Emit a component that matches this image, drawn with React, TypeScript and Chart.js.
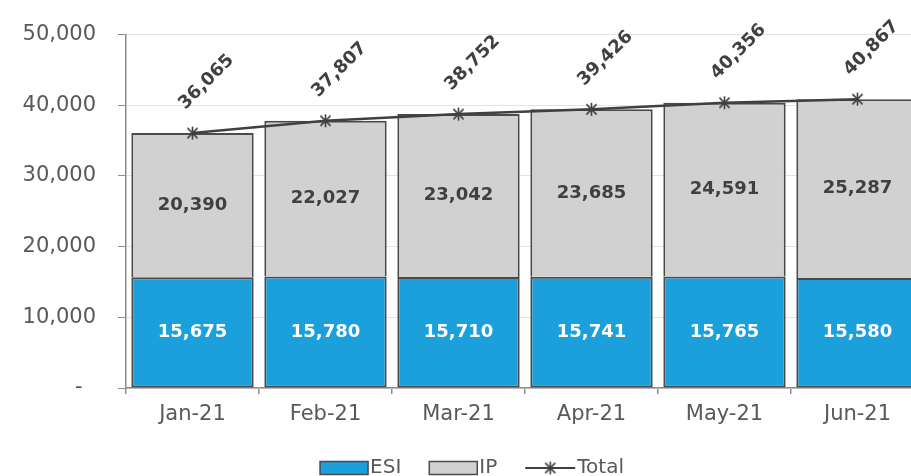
import React, { useEffect, useRef } from 'react';
import { Chart, registerables } from 'chart.js';

Chart.register(...registerables);

const categories = ['Jan-21', 'Feb-21', 'Mar-21', 'Apr-21', 'May-21', 'Jun-21'];
const esiValues = [15675, 15780, 15710, 15741, 15765, 15580];
const ipValues = [20390, 22027, 23042, 23685, 24591, 25287];
const totalValues = [36065, 37807, 38752, 39426, 40356, 40867];
const yMin = 0;
const yMax = 50000;
const yStep = 10000;
const seriesNames = ['ESI', 'IP', 'Total'];

const BLUE = '#1CA0DC';
const GRAY = '#D1D1D1';
const BORDER = '#4A4A4A';
const DARK = '#404040';
const TEXT = '#595959';
const AXIS = '#8C8C8C';
const FONT = '"DejaVu Sans", sans-serif';

const fmt = (v: number) => v.toLocaleString('en-US');

function makeStar(size: number, color: string, lw: number): HTMLCanvasElement {
  const c = document.createElement('canvas');
  c.width = size;
  c.height = size;
  const g = c.getContext('2d')!;
  g.strokeStyle = color;
  g.lineWidth = lw;
  const m = size / 2;
  const r = size / 2 - 1;
  const d = r * 0.78;
  g.beginPath();
  g.moveTo(m, m - r);
  g.lineTo(m, m + r);
  g.moveTo(m - d, m - d);
  g.lineTo(m + d, m + d);
  g.moveTo(m + d, m - d);
  g.lineTo(m - d, m + d);
  g.stroke();
  return c;
}

export default function App() {
  const ref = useRef<HTMLCanvasElement>(null);

  useEffect(() => {
    const star = makeStar(15, DARK, 1.6);

    const labelsPlugin = {
      id: 'valueLabels',
      afterDatasetsDraw(chart: any) {
        const ctx = chart.ctx;
        ctx.save();
        ctx.font = `bold 18px ${FONT}`;
        ctx.textAlign = 'center';
        ctx.textBaseline = 'middle';
        [0, 1].forEach((di) => {
          const meta = chart.getDatasetMeta(di);
          const vals = di === 0 ? esiValues : ipValues;
          ctx.fillStyle = di === 0 ? '#FFFFFF' : DARK;
          meta.data.forEach((el: any, i: number) => {
            ctx.fillText(fmt(vals[i]), el.x, (el.y + el.base) / 2);
          });
        });
        const lm = chart.getDatasetMeta(2);
        ctx.fillStyle = DARK;
        lm.data.forEach((el: any, i: number) => {
          ctx.save();
          ctx.translate(el.x + 14, el.y - 51);
          ctx.rotate(-Math.PI / 4);
          ctx.fillText(fmt(totalValues[i]), 0, 0);
          ctx.restore();
        });
        ctx.restore();
      },
    };

    const legendPlugin = {
      id: 'customLegend',
      afterDraw(chart: any) {
        const ctx = chart.ctx;
        ctx.save();
        ctx.font = `20px ${FONT}`;
        ctx.textBaseline = 'middle';
        ctx.textAlign = 'left';
        const boxW = 48;
        const boxH = 13;
        const lineW = 50;
        const gapText = 2;
        const gapItem = 28;
        const widths = [
          boxW + gapText + ctx.measureText(seriesNames[0]).width,
          boxW + gapText + ctx.measureText(seriesNames[1]).width,
          lineW + gapText + ctx.measureText(seriesNames[2]).width,
        ];
        const totalW = widths.reduce((a, b) => a + b, 0) + gapItem * 2;
        let x = 472 - totalW / 2;
        const cy = 468;
        const fills = [BLUE, GRAY];
        for (let k = 0; k < 2; k++) {
          ctx.fillStyle = fills[k];
          ctx.fillRect(x, cy - boxH / 2, boxW, boxH);
          ctx.strokeStyle = BORDER;
          ctx.lineWidth = 1.5;
          ctx.strokeRect(x, cy - boxH / 2, boxW, boxH);
          ctx.fillStyle = TEXT;
          ctx.fillText(seriesNames[k], x + boxW + gapText, cy);
          x += widths[k] + gapItem;
        }
        ctx.strokeStyle = DARK;
        ctx.lineWidth = 2;
        ctx.beginPath();
        ctx.moveTo(x, cy);
        ctx.lineTo(x + lineW, cy);
        ctx.stroke();
        ctx.drawImage(star, x + lineW / 2 - star.width / 2, cy - star.height / 2);
        ctx.fillStyle = TEXT;
        ctx.fillText(seriesNames[2], x + lineW + gapText, cy);
        ctx.restore();
      },
    };

    const chart = new Chart(ref.current as HTMLCanvasElement, {
      type: 'bar',
      data: {
        labels: categories,
        datasets: [
          {
            type: 'bar',
            label: seriesNames[0],
            data: esiValues,
            backgroundColor: BLUE,
            borderColor: BORDER,
            borderWidth: 2,
            borderSkipped: false,
            barPercentage: 0.92,
            categoryPercentage: 1,
            stack: 'bars',
            order: 1,
          },
          {
            type: 'bar',
            label: seriesNames[1],
            data: ipValues,
            backgroundColor: GRAY,
            borderColor: BORDER,
            borderWidth: 2,
            borderSkipped: 'start',
            barPercentage: 0.92,
            categoryPercentage: 1,
            stack: 'bars',
            order: 1,
          },
          {
            type: 'line',
            label: seriesNames[2],
            data: totalValues,
            borderColor: DARK,
            borderWidth: 2.5,
            pointStyle: star as any,
            pointRadius: 7,
            pointBorderColor: DARK,
            pointBackgroundColor: DARK,
            stack: 'total',
            order: 0,
            tension: 0,
          } as any,
        ],
      },
      options: {
        responsive: false,
        animation: false,
        devicePixelRatio: 1,
        layout: { padding: { left: 0, right: 16, top: 32, bottom: 38 } },
        plugins: {
          legend: { display: false },
          tooltip: { enabled: false },
        },
        scales: {
          x: {
            stacked: true,
            offset: true,
            grid: {
              offset: true,
              drawOnChartArea: false,
              drawTicks: true,
              tickLength: 6,
              color: AXIS,
              tickColor: AXIS,
              lineWidth: 1.5,
            },
            border: { color: AXIS, width: 1.5 },
            ticks: {
              color: TEXT,
              font: { family: FONT, size: 21 },
              padding: 8,
              maxRotation: 0,
            },
            afterFit: (scale: any) => {
              scale.height = 50;
            },
          },
          y: {
            stacked: true,
            min: yMin,
            max: yMax,
            ticks: {
              stepSize: yStep,
              color: TEXT,
              font: { family: FONT, size: 21 },
              padding: 22,
              callback: (v: any) => (Number(v) === 0 ? '-  ' : fmt(Number(v))),
            },
            grid: {
              color: '#E3E3E3',
              tickColor: AXIS,
              tickLength: 8,
              lineWidth: 1,
            },
            border: { color: AXIS, width: 1.5 },
            afterFit: (scale: any) => {
              scale.width = 126;
            },
          },
        },
      },
      plugins: [labelsPlugin, legendPlugin],
    } as any);

    return () => chart.destroy();
  }, []);

  return (
    <div
      style={{
        position: 'fixed',
        left: 0,
        top: 0,
        width: 911,
        height: 476,
        overflow: 'hidden',
        background: '#FFFFFF',
      }}
    >
      <canvas ref={ref} width={940} height={476} style={{ display: 'block' }} />
    </div>
  );
}
